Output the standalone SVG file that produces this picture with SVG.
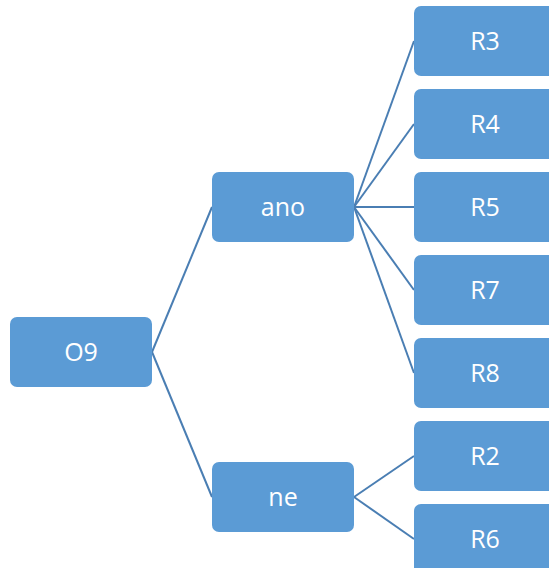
<svg xmlns="http://www.w3.org/2000/svg" width="549" height="568" viewBox="0 0 549 568">
<style>
.box{fill:#5B9BD5;}
.lbl{fill:#ffffff;font-family:"Open Sans","Noto Sans","Liberation Sans",sans-serif;font-size:25px;text-anchor:middle;dominant-baseline:central;}
.conn{stroke:#4A7EB3;stroke-width:2;fill:none;}
</style>
<rect width="549" height="568" fill="#ffffff"/>
<g id="connectors">
<line class="conn" x1="152" y1="352" x2="212" y2="207"/>
<line class="conn" x1="152" y1="352" x2="212" y2="497"/>
<line class="conn" x1="354" y1="207" x2="414" y2="41"/>
<line class="conn" x1="354" y1="207" x2="414" y2="124"/>
<line class="conn" x1="354" y1="207" x2="414" y2="207"/>
<line class="conn" x1="354" y1="207" x2="414" y2="290"/>
<line class="conn" x1="354" y1="207" x2="414" y2="373"/>
<line class="conn" x1="354" y1="497" x2="414" y2="456"/>
<line class="conn" x1="354" y1="497" x2="414" y2="539"/>
</g>
<g id="O9"><rect class="box" x="10" y="317" width="142" height="70" rx="7"/><text class="lbl" x="81" y="351">O9</text></g>
<g id="ano"><rect class="box" x="212" y="172" width="142" height="70" rx="7"/><text class="lbl" x="283" y="206">ano</text></g>
<g id="ne"><rect class="box" x="212" y="462" width="142" height="70" rx="7"/><text class="lbl" x="283" y="496">ne</text></g>
<g id="R3"><rect class="box" x="414" y="6" width="142" height="70" rx="7"/><text class="lbl" x="485" y="40">R3</text></g>
<g id="R4"><rect class="box" x="414" y="89" width="142" height="70" rx="7"/><text class="lbl" x="485" y="123">R4</text></g>
<g id="R5"><rect class="box" x="414" y="172" width="142" height="70" rx="7"/><text class="lbl" x="485" y="206">R5</text></g>
<g id="R7"><rect class="box" x="414" y="255" width="142" height="70" rx="7"/><text class="lbl" x="485" y="289">R7</text></g>
<g id="R8"><rect class="box" x="414" y="338" width="142" height="70" rx="7"/><text class="lbl" x="485" y="372">R8</text></g>
<g id="R2"><rect class="box" x="414" y="421" width="142" height="70" rx="7"/><text class="lbl" x="485" y="455">R2</text></g>
<g id="R6"><rect class="box" x="414" y="504" width="142" height="70" rx="7"/><text class="lbl" x="485" y="538">R6</text></g>
</svg>
